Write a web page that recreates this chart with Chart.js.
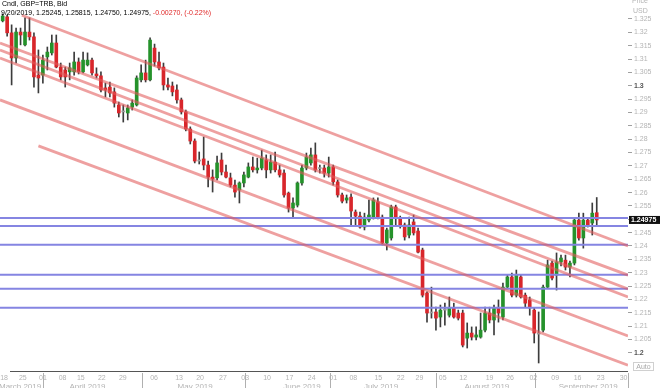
<!DOCTYPE html>
<html>
<head>
<meta charset="utf-8">
<script src="https://cdn.jsdelivr.net/npm/chart.js@4.4.1/dist/chart.umd.min.js"></script>
<style>
  body { margin: 0; background: #fff; }
  #wrap { position: relative; width: 660px; height: 388px; overflow: hidden; background: #fff; }
  #c { position: absolute; left: 0; top: 0; }
  .txt { position: absolute; font-family: "Liberation Sans", Arial, sans-serif; font-size: 7px; white-space: nowrap; line-height: 8px; }
  .red { color: #e02828; }
  .axis { color: #b4b4b4; }
  #auto { position: absolute; left: 633px; top: 362px; width: 19px; height: 7px; border: 1px solid #d0d0d0;
          font-family: "Liberation Sans", Arial, sans-serif; font-size: 7px; line-height: 7px; color: #a8a8a8; text-align: center; }
</style>
</head>
<body>
<div id="wrap">
  <canvas id="c" width="660" height="388"></canvas>
  <div class="txt" style="left:2px;top:0px;">Cndl, GBP=TRB, Bid</div>
  <div class="txt" style="left:1px;top:9px;">9/20/2019, 1.25245, 1.25815, 1.24750, 1.24975, <span class="red">-0.00270, (-0.22%)</span></div>
  <div class="txt axis" style="left:632px;top:-3px;">Price</div>
  <div class="txt axis" style="left:633px;top:7px;">USD</div>
  <div id="auto">Auto</div>
</div>
<script>
// daily candles, 18 Mar - 20 Sep 2019 (index = trading day)
const openP = [
  1.3243, 1.3258, 1.3198, 1.3104, 1.3201, 1.3153, 1.3201, 1.3183, 1.3040, 1.3040,
  1.3108, 1.3123, 1.3160, 1.3070, 1.3059, 1.3052, 1.3052, 1.3089, 1.3052, 1.3078,
  1.3096, 1.3044, 1.3037, 1.2992, 1.2995, 1.2977, 1.2928, 1.2905, 1.2898, 1.2920,
  1.2928, 1.3022, 1.3048, 1.3022, 1.3141, 1.3089, 1.3070, 1.3003, 1.2999, 1.2984,
  1.2947, 1.2902, 1.2838, 1.2793, 1.2718, 1.2726, 1.2703, 1.2658, 1.2655, 1.2722,
  1.2677, 1.2655, 1.2628, 1.2610, 1.2636, 1.2658, 1.2696, 1.2685, 1.2692, 1.2722,
  1.2685, 1.2714, 1.2685, 1.2673, 1.2598, 1.2542, 1.2553, 1.2636, 1.2692, 1.2711,
  1.2741, 1.2692, 1.2692, 1.2673, 1.2696, 1.2640, 1.2591, 1.2572, 1.2583, 1.2527,
  1.2512, 1.2471, 1.2497, 1.2508, 1.2565, 1.2508, 1.2411, 1.2430, 1.2546, 1.2505,
  1.2479, 1.2441, 1.2490, 1.2456, 1.2385, 1.2224, 1.2153, 1.2153, 1.2134, 1.2164,
  1.2141, 1.2168, 1.2149, 1.2149, 1.2055, 1.2074, 1.2059, 1.2059, 1.2085, 1.2149,
  1.2123, 1.2168, 1.2134, 1.2246, 1.2284, 1.2216, 1.2284, 1.2216, 1.2198, 1.2160,
  1.2074, 1.2085, 1.2246, 1.2336, 1.2291, 1.2340, 1.2347, 1.2321, 1.2336, 1.2497,
  1.2430, 1.2497, 1.2486, 1.25245
];
const highP = [
  1.3269, 1.3265, 1.3228, 1.3216, 1.3216, 1.3254, 1.3254, 1.3198, 1.3134, 1.3115,
  1.3145, 1.3190, 1.3190, 1.3085, 1.3070, 1.3085, 1.3126, 1.3104, 1.3126, 1.3123,
  1.3104, 1.3067, 1.3052, 1.3010, 1.3014, 1.2992, 1.2939, 1.2928, 1.2928, 1.2947,
  1.3037, 1.3078, 1.3096, 1.3179, 1.3156, 1.3126, 1.3085, 1.3029, 1.3014, 1.3003,
  1.2954, 1.2909, 1.2846, 1.2801, 1.2752, 1.2808, 1.2718, 1.2685, 1.2737, 1.2748,
  1.2703, 1.2673, 1.2647, 1.2640, 1.2677, 1.2711, 1.2733, 1.2729, 1.2759, 1.2741,
  1.2741, 1.2752, 1.2703, 1.2685, 1.2602, 1.2580, 1.2640, 1.2703, 1.2748, 1.2767,
  1.2786, 1.2703, 1.2703, 1.2733, 1.2703, 1.2647, 1.2598, 1.2591, 1.2595, 1.2535,
  1.2527, 1.2523, 1.2572, 1.2580, 1.2580, 1.2516, 1.2467, 1.2553, 1.2553, 1.2512,
  1.2486, 1.2508, 1.2516, 1.2467, 1.2392, 1.2228, 1.2246, 1.2171, 1.2179, 1.2186,
  1.2209, 1.2186, 1.2160, 1.2160, 1.2112, 1.2097, 1.2097, 1.2149, 1.2171, 1.2171,
  1.2179, 1.2198, 1.2261, 1.2291, 1.2299, 1.2310, 1.2291, 1.2224, 1.2209, 1.2168,
  1.2153, 1.2254, 1.2347, 1.2344, 1.2374, 1.2366, 1.2366, 1.2344, 1.2505, 1.2523,
  1.2523, 1.2505, 1.2561, 1.25815
];
const lowP = [
  1.3239, 1.3186, 1.3003, 1.3085, 1.3153, 1.3149, 1.3171, 1.2995, 1.2973, 1.3010,
  1.3059, 1.3115, 1.3067, 1.3022, 1.2995, 1.3022, 1.3040, 1.3044, 1.3048, 1.3074,
  1.3040, 1.3029, 1.2977, 1.2958, 1.2958, 1.2920, 1.2883, 1.2864, 1.2872, 1.2909,
  1.2924, 1.3014, 1.3014, 1.3018, 1.3074, 1.3059, 1.2984, 1.2984, 1.2962, 1.2935,
  1.2894, 1.2831, 1.2782, 1.2711, 1.2707, 1.2685, 1.2621, 1.2602, 1.2647, 1.2666,
  1.2655, 1.2621, 1.2583, 1.2561, 1.2621, 1.2655, 1.2677, 1.2673, 1.2685, 1.2655,
  1.2673, 1.2677, 1.2658, 1.2583, 1.2527, 1.2508, 1.2546, 1.2628, 1.2685, 1.2703,
  1.2677, 1.2673, 1.2658, 1.2658, 1.2628, 1.2583, 1.2561, 1.2561, 1.2479, 1.2479,
  1.2467, 1.2460, 1.2490, 1.2501, 1.2501, 1.2404, 1.2385, 1.2422, 1.2479, 1.2467,
  1.2422, 1.2430, 1.2441, 1.2374, 1.2209, 1.2115, 1.2130, 1.2085, 1.2097, 1.2104,
  1.2134, 1.2130, 1.2123, 1.2022, 1.2018, 1.2048, 1.2048, 1.2055, 1.2078, 1.2112,
  1.2067, 1.2115, 1.2123, 1.2243, 1.2209, 1.2209, 1.2205, 1.2171, 1.2141, 1.2037,
  1.1962, 1.2078, 1.2243, 1.2273, 1.2235, 1.2325, 1.2310, 1.2284, 1.2329, 1.2422,
  1.2392, 1.2471, 1.2441, 1.24750
];
const closeP = [
  1.3261, 1.3198, 1.3104, 1.3201, 1.3190, 1.3201, 1.3183, 1.3033, 1.3029, 1.3096,
  1.3126, 1.3160, 1.3070, 1.3033, 1.3033, 1.3067, 1.3089, 1.3052, 1.3096, 1.3096,
  1.3048, 1.3037, 1.2984, 1.2984, 1.2973, 1.2935, 1.2898, 1.2902, 1.2917, 1.2935,
  1.3029, 1.3048, 1.3022, 1.3171, 1.3089, 1.3067, 1.3003, 1.2995, 1.2977, 1.2947,
  1.2902, 1.2838, 1.2793, 1.2718, 1.2722, 1.2703, 1.2658, 1.2651, 1.2711, 1.2677,
  1.2658, 1.2628, 1.2602, 1.2636, 1.2666, 1.2696, 1.2685, 1.2692, 1.2729, 1.2685,
  1.2714, 1.2685, 1.2666, 1.2591, 1.2542, 1.2561, 1.2636, 1.2692, 1.2733, 1.2741,
  1.2685, 1.2690, 1.2673, 1.2696, 1.2640, 1.2591, 1.2568, 1.2580, 1.2531, 1.2512,
  1.2471, 1.2508, 1.2516, 1.2572, 1.2508, 1.2411, 1.2460, 1.2546, 1.2508, 1.2479,
  1.2434, 1.2479, 1.2449, 1.2377, 1.2216, 1.2149, 1.2149, 1.2130, 1.2160, 1.2160,
  1.2168, 1.2134, 1.2130, 1.2029, 1.2074, 1.2059, 1.2067, 1.2085, 1.2149, 1.2123,
  1.2168, 1.2149, 1.2246, 1.2284, 1.2216, 1.2291, 1.2209, 1.2186, 1.2168, 1.2074,
  1.2070, 1.2246, 1.2329, 1.2280, 1.2340, 1.2355, 1.2321, 1.2336, 1.2497, 1.2430,
  1.2497, 1.2479, 1.2523, 1.24975
];

// channel lines: [startIdx, startPrice, endIdx, endPrice]
const trendLines = [
  [4.3, 1.3264, 140, 1.2400],
  [-0.6, 1.3160, 140, 1.2291],
  [-0.6, 1.3134, 140, 1.2239],
  [-0.6, 1.3104, 140, 1.2209],
  [-0.6, 1.2947, 140, 1.2063],
  [8, 1.2775, 140, 1.1954]
];
// horizontal support / resistance levels
const levels = [1.2505, 1.2475, 1.2405, 1.2292, 1.2240, 1.2169];

// axis labels
const yTicks = [1.2, 1.205, 1.21, 1.215, 1.22, 1.225, 1.23, 1.235, 1.24, 1.245, 1.25, 1.255, 1.26,
  1.265, 1.27, 1.275, 1.28, 1.285, 1.29, 1.295, 1.3, 1.305, 1.31, 1.315, 1.32, 1.325];
const tickIdx = [0.3, 4.5, 9, 13.4, 17.5, 22.2, 26.9, 33.9, 39.5, 44.2, 49.3, 54.3, 59.2, 64.2, 69.2,
  74, 78.5, 84.1, 89.1, 93.3, 98.5, 103.1, 109, 113.6, 118.8, 123.7, 128.7, 133.9, 139];
const tickText = ['18', '25', '01', '08', '15', '22', '29', '06', '13', '20', '27', '03', '10', '17', '24',
  '01', '08', '15', '22', '29', '05', '12', '19', '26', '02', '09', '16', '23', '30'];
const monthText = ['March 2019', 'April 2019', 'May 2019', 'June 2019', 'July 2019', 'August 2019', 'September 2019'];
const monthMid = [3.9, 19, 43.1, 67, 84.7, 108.4, 131.1];
const monthSep = [9, 31.3, 54.3, 73.3, 97, 119.2, 140];

const FONT = '"Liberation Sans", Arial, sans-serif';

function candleColor(i) {
  const d = closeP[i] - openP[i];
  if (Math.abs(d) < 0.0005) return '#9c9c9c';
  return d > 0 ? '#25922b' : '#d8262b';
}

// 1.2, 1.3 ... are shown bold
function isMajor(c) {
  if (!c || !c.tick) return false;
  const v = c.tick.value * 10;
  return Math.abs(v - Math.round(v)) < 1e-6;
}

const wicks = openP.map((o, i) => ({ x: i, y: [lowP[i], highP[i]] }));
const bodies = openP.map((o, i) => ({ x: i, y: [o, closeP[i]] }));

const datasets = [];
trendLines.forEach(t => {
  datasets.push({
    type: 'line',
    data: [{ x: t[0], y: t[1] }, { x: t[2], y: t[3] }],
    borderColor: 'rgba(226, 92, 92, 0.58)',
    borderWidth: 2.8,
    pointRadius: 0,
    order: 1
  });
});
levels.forEach(v => {
  datasets.push({
    type: 'line',
    data: [{ x: -0.6, y: v }, { x: 140, y: v }],
    borderColor: '#8585e2',
    borderWidth: 2,
    pointRadius: 0,
    order: 2
  });
});
datasets.push({
  type: 'bar',
  data: bodies,
  backgroundColor: openP.map((o, i) => candleColor(i)),
  barThickness: 3,
  minBarLength: 1,
  grouped: false,
  order: 4
});
datasets.push({
  type: 'bar',
  data: wicks,
  backgroundColor: '#3c3c3c',
  barThickness: 1,
  grouped: false,
  order: 5
});

// month row, separators, axis line and last price tag
const extras = {
  id: 'extras',
  afterDraw(chart) {
    const ctx = chart.ctx;
    const xs = chart.scales.x;
    const ys = chart.scales.y;
    const area = chart.chartArea;
    ctx.save();
    ctx.strokeStyle = '#555';
    ctx.lineWidth = 1;
    ctx.beginPath();
    ctx.moveTo(10, area.bottom + 0.5);
    ctx.lineTo(area.right, area.bottom + 0.5);
    ctx.stroke();

    ctx.strokeStyle = '#b0b0b0';
    monthSep.forEach(v => {
      const px = Math.round(xs.getPixelForValue(v)) + 0.5;
      ctx.beginPath();
      ctx.moveTo(px, area.bottom + 2);
      ctx.lineTo(px, 388);
      ctx.stroke();
    });

    ctx.fillStyle = '#b4b4b4';
    ctx.font = '8px ' + FONT;
    ctx.textAlign = 'center';
    ctx.textBaseline = 'alphabetic';
    monthText.forEach((t, i) => {
      ctx.fillText(t, xs.getPixelForValue(monthMid[i]), 388.5);
    });

    const last = closeP.length - 1;
    const py = ys.getPixelForValue(closeP[last]);
    ctx.fillStyle = '#111';
    ctx.fillRect(area.right + 1, py - 4, 32, 8);
    ctx.fillStyle = '#fff';
    ctx.font = 'bold 7px ' + FONT;
    ctx.textAlign = 'left';
    ctx.textBaseline = 'middle';
    ctx.fillText(closeP[last].toFixed(5), area.right + 3, py + 0.5);
    ctx.restore();
  }
};

new Chart(document.getElementById('c'), {
  type: 'bar',
  data: { datasets },
  options: {
    responsive: false,
    animation: false,
    layout: { padding: 0 },
    plugins: { legend: { display: false }, tooltip: { enabled: false } },
    scales: {
      x: {
        type: 'linear',
        min: -0.6,
        max: 140,
        offset: false,
        grid: { display: false, drawTicks: false },
        border: { display: false },
        ticks: {
          color: '#b4b4b4',
          font: { size: 7, family: FONT },
          padding: 3,
          autoSkip: false,
          maxRotation: 0,
          callback: (v, i) => tickText[i]
        },
        afterBuildTicks(s) { s.ticks = tickIdx.map(v => ({ value: v })); },
        afterFit(s) { s.height = 17; s.paddingLeft = 0; s.paddingRight = 0; }
      },
      y: {
        position: 'right',
        min: 1.1932,
        max: 1.3321,
        grid: { drawOnChartArea: false, drawTicks: true, tickLength: 4, color: '#a0a0a0' },
        border: { display: false },
        ticks: {
          padding: 2,
          color: c => (isMajor(c) ? '#555' : '#b4b4b4'),
          font: c => ({ size: 7, family: FONT, weight: isMajor(c) ? 'bold' : 'normal' }),
          callback: v => String(Number(v.toFixed(3)))
        },
        afterBuildTicks(s) { s.ticks = yTicks.map(v => ({ value: v })); },
        afterFit(s) { s.width = 32; s.paddingTop = 0; s.paddingBottom = 0; }
      }
    }
  },
  plugins: [extras]
});
</script>
</body>
</html>
